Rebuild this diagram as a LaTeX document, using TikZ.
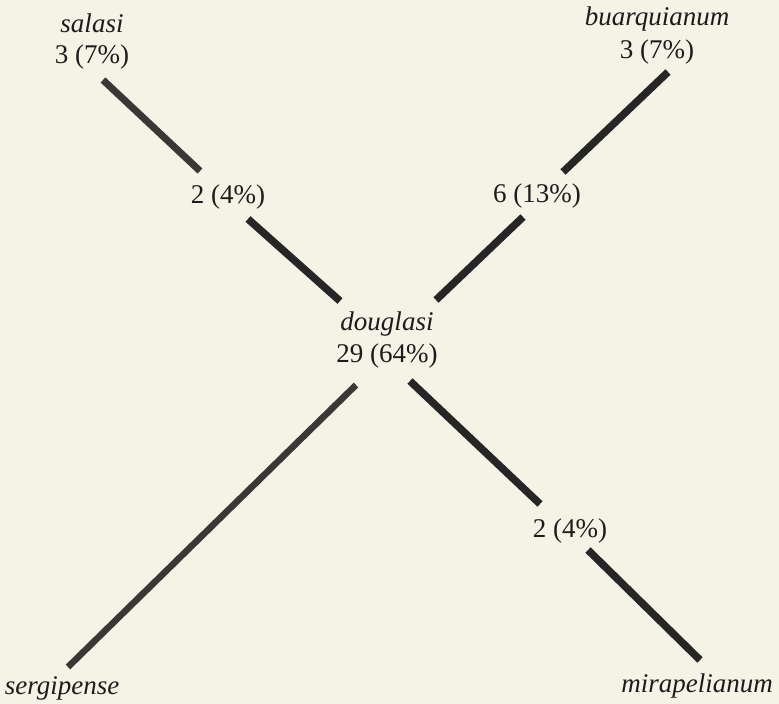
\documentclass[tikz,border=0pt]{standalone}
\usepackage{fontspec}
\setmainfont{Liberation Serif}
\definecolor{PaperTone}{HTML}{F4F3E6}
\definecolor{BranchInk}{HTML}{262626}
\definecolor{PaleInk}{HTML}{3A3836}
\definecolor{LabelInk}{HTML}{1C1C1C}
\tikzset{
  plate/.style={x=1pt,y=-1pt,text=LabelInk},
  taxon/.style={inner sep=0pt,anchor=base,font=\fontsize{27}{32}\selectfont\itshape},
  tally/.style={inner sep=0pt,anchor=base,font=\fontsize{27}{32}\selectfont},
  branch/.style={draw=BranchInk,line width=7.5pt},
}

\begin{document}
\begin{tikzpicture}[plate]
  \fill[PaperTone] (0,0) rectangle (779,704);
  \useasboundingbox (0,0) rectangle (779,704);

  % outer taxa
  \node[taxon] (salasi) at (92,32) {salasi};
  \node[tally] (salasiN) at (92,63) {3 (7\%)};
  \node[taxon] (buarq) at (657,25) {buarquianum};
  \node[tally] (buarqN) at (657,58) {3 (7\%)};
  \node[taxon] (sergip) at (62,694) {sergipense};
  \node[taxon] (mirap) at (697,692) {mirapelianum};

  % centre and shared counts
  \node[taxon] (douglasi) at (387,330) {douglasi};
  \node[tally] (douglasiN) at (387,362) {29 (64\%)};
  \node[tally] (salasiD) at (228,203) {2 (4\%)};
  \node[tally] (buarqD) at (537,202) {6 (13\%)};
  \node[tally] (mirapD) at (570,537) {2 (4\%)};

  \coordinate (s1) at (103,80);  \coordinate (s2) at (200,171);
  \coordinate (s3) at (248,219); \coordinate (s4) at (340,301);
  \coordinate (b1) at (668,72);  \coordinate (b2) at (563,172);
  \coordinate (b3) at (523,217); \coordinate (b4) at (436,300);
  \coordinate (g1) at (356,385); \coordinate (g2) at (68,667);
  \coordinate (m1) at (410,381); \coordinate (m2) at (540,504);
  \coordinate (m3) at (588,550); \coordinate (m4) at (700,660);

  \draw[branch,draw=PaleInk,line width=7pt] (s1) -- (s2);
  \draw[branch] (s3) -- (s4);
  \draw[branch] (b1) -- (b2);
  \draw[branch] (b3) -- (b4);
  \draw[branch,draw=PaleInk,line width=6.5pt] (g1) -- (g2);
  \draw[branch] (m1) -- (m2);
  \draw[branch] (m3) -- (m4);
\end{tikzpicture}
\end{document}
